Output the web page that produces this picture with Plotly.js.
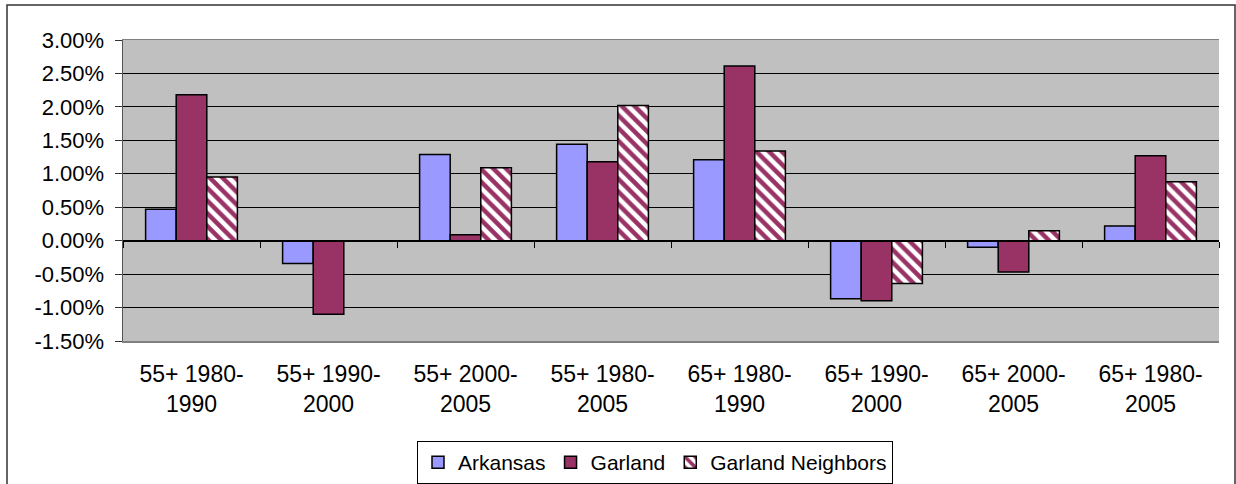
<!DOCTYPE html>
<html>
<head>
<meta charset="utf-8">
<script src="https://cdn.plot.ly/plotly-3.0.1.min.js"></script>
<style>
html,body{margin:0;padding:0;background:#fff;}
#chart{width:1236px;height:484px;}
</style>
</head>
<body>
<div id="chart"></div>
<script>
const categories = ["55+ 1980-<br>1990","55+ 1990-<br>2000","55+ 2000-<br>2005","55+ 1980-<br>2005","65+ 1980-<br>1990","65+ 1990-<br>2000","65+ 2000-<br>2005","65+ 1980-<br>2005"];
const arkansas = [0.47, -0.34, 1.29, 1.44, 1.21, -0.87, -0.10, 0.22];
const garland = [2.18, -1.10, 0.09, 1.18, 2.61, -0.90, -0.47, 1.27];
const neighbors = [0.95, null, 1.09, 2.02, 1.34, -0.64, 0.15, 0.88];
const seriesNames = ["Arkansas", "Garland", "Garland Neighbors"];
const yTicks = [-1.5, -1.0, -0.5, 0, 0.5, 1.0, 1.5, 2.0, 2.5, 3.0];
const yTickText = ["-1.50%", "-1.00%", "-0.50%", "0.00%", "0.50%", "1.00%", "1.50%", "2.00%", "2.50%", "3.00%"];

const font = "Liberation Sans, Arial, sans-serif";
const outline = {color: "#000", width: 1.5};

const traces = [
  {type: "bar", name: seriesNames[0], x: categories, y: arkansas,
   marker: {color: "#9999FF", line: outline}},
  {type: "bar", name: seriesNames[1], x: categories, y: garland,
   marker: {color: "#993366", line: outline}},
  {type: "bar", name: seriesNames[2], x: categories, y: neighbors,
   marker: {color: "#FFFFFF", line: outline,
            pattern: {shape: "\\", bgcolor: "#FFFFFF", fgcolor: "#993366", size: 9, solidity: 0.5}}},
  {type: "scatter", x: [null], y: [null], xaxis: "x2", showlegend: false, hoverinfo: "skip"}
];

const W = 1236, H = 484;
const M = {l: 123, r: 17, t: 40, b: 143};
const PW = W - M.l - M.r, PH = H - M.t - M.b;
const yMin = -1.5, yMax = 3.0;
const layout = {
  width: W, height: H,
  margin: M,
  paper_bgcolor: "#FFFFFF",
  plot_bgcolor: "#C0C0C0",
  barmode: "group",
  bargap: 0.33,
  bargroupgap: 0,
  showlegend: true,
  font: {family: font, color: "#000"},
  xaxis: {
    type: "category",
    range: [-0.5, 7.5],
    showgrid: false,
    ticks: "",
    showline: true, linecolor: "#808080", linewidth: 1.5, mirror: true,
    tickfont: {family: font, size: 23, color: "#000"},
    ticklabelstandoff: 12,
    automargin: false
  },
  xaxis2: {
    overlaying: "x",
    anchor: "free",
    position: (0 - yMin) / (yMax - yMin),
    range: [-0.5, 7.5],
    tickmode: "array",
    tickvals: [-0.5, 0.5, 1.5, 2.5, 3.5, 4.5, 5.5, 6.5, 7.5],
    showticklabels: false,
    ticks: "outside", ticklen: 6, tickcolor: "#000", tickwidth: 1,
    showgrid: false, zeroline: false,
    showline: true, linecolor: "#000", linewidth: 1
  },
  yaxis: {
    range: [yMin, yMax],
    tickmode: "array",
    tickvals: yTicks,
    ticktext: yTickText,
    showgrid: true, gridcolor: "#000", gridwidth: 1,
    zeroline: false,
    showline: true, linecolor: "#555", linewidth: 1.5,
    ticks: "outside", ticklen: 7, tickcolor: "#333",
    tickfont: {family: font, size: 22, color: "#000"},
    ticklabelstandoff: 6,
    automargin: false
  },
  legend: {
    orientation: "h",
    xref: "container", yref: "container",
    x: 655 / W, xanchor: "center",
    y: 1 - 441 / H, yanchor: "top",
    bordercolor: "#000", borderwidth: 1,
    bgcolor: "#FFFFFF",
    font: {family: font, size: 21, color: "#000"},
    itemwidth: 30,
    traceorder: "normal"
  },
  shapes: [
    {type: "rect", xref: "paper", yref: "paper",
     x0: (7 - M.l) / PW, x1: (1235 - M.l) / PW,
     y0: (H - M.b - 495) / PH, y1: (H - M.b - 5) / PH,
     line: {color: "#333", width: 1.5}, fillcolor: "rgba(0,0,0,0)", layer: "below"}
  ]
};

Plotly.newPlot("chart", traces, layout, {displayModeBar: false, staticPlot: true});
</script>
</body>
</html>
